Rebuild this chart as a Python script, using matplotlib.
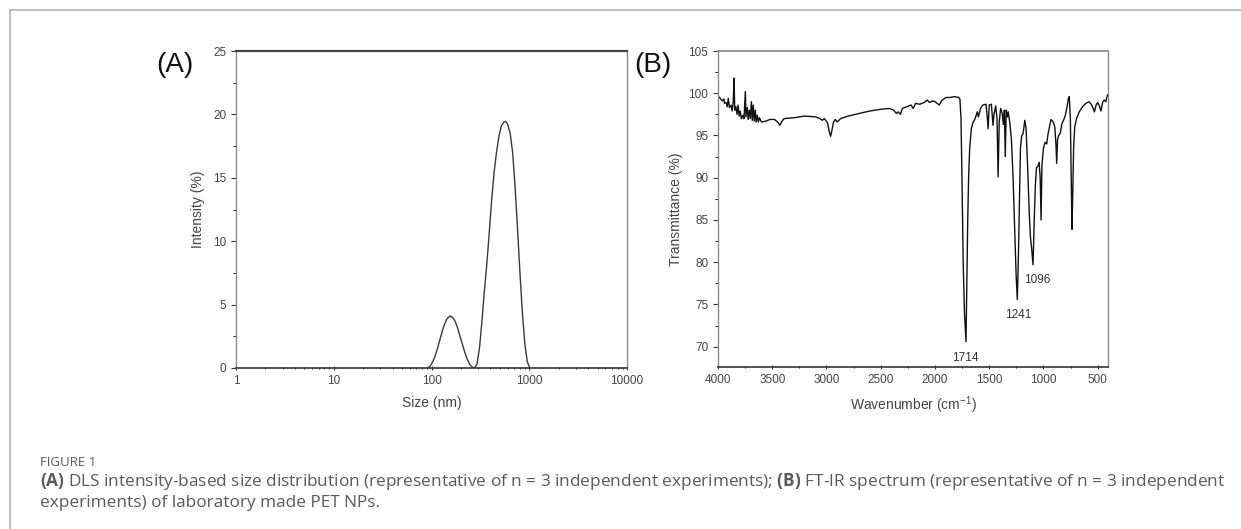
import matplotlib
matplotlib.use("Agg")
import matplotlib.pyplot as plt
from matplotlib.lines import Line2D
from matplotlib.ticker import FixedLocator, LogLocator, NullFormatter, MultipleLocator

plt.rcParams["font.family"] = ["Liberation Sans", "DejaVu Sans"]
plt.rcParams["mathtext.fontset"] = "custom"
plt.rcParams["mathtext.rm"] = "Liberation Sans"
plt.rcParams["mathtext.bf"] = "Open Sans:bold"

# (A) DLS size distribution
size_nm = [91.2, 96.6, 102.3, 108.4, 114.8, 121.6, 128.8, 136.5, 144.5, 154.9,
           164.1, 173.8, 184.1, 195.0, 206.5, 218.8, 231.7, 245.5, 260.0, 275.4,
           291.7, 309.0, 327.3, 346.7, 367.3, 389.0, 412.1, 436.5, 462.4, 489.8,
           518.8, 549.5, 574.1, 602.6, 638.3, 676.1, 716.1, 758.6, 803.5, 851.1,
           901.6, 955.0, 1011.6]
intensity = [0.0, 0.15, 0.45, 0.9, 1.5, 2.2, 2.9, 3.5, 3.9, 4.1,
             4.0, 3.7, 3.2, 2.55, 1.9, 1.25, 0.7, 0.3, 0.08, 0.0,
             0.3, 1.5, 3.6, 6.0, 8.1, 10.6, 13.2, 15.4, 17.0, 18.3,
             19.1, 19.4, 19.45, 19.2, 18.5, 17.0, 14.3, 11.0, 7.5, 4.3,
             1.9, 0.5, 0.0]

# (B) FT-IR spectrum
wavenumber = [4000, 3980, 3960, 3945, 3940, 3925, 3915, 3905, 3895, 3880,
              3870, 3860, 3852, 3846, 3835, 3825, 3815, 3805, 3795, 3785,
              3770, 3760, 3748, 3742, 3730, 3722, 3712, 3702, 3692, 3684,
              3675, 3666, 3656, 3648, 3638, 3628, 3618, 3600, 3560, 3520,
              3480, 3450, 3430, 3410, 3390, 3300, 3200, 3100, 3060, 3040,
              3020, 2990, 2975, 2962, 2950, 2935, 2920, 2900, 2870, 2800,
              2700, 2600, 2500, 2420, 2380, 2355, 2340, 2320, 2300, 2260,
              2220, 2200, 2180, 2140, 2100, 2070, 2050, 2020, 2000, 1980,
              1960, 1940, 1900, 1860, 1820, 1780, 1770, 1760, 1750, 1740,
              1728, 1714, 1706, 1698, 1690, 1680, 1665, 1650, 1630, 1610,
              1600, 1580, 1560, 1530, 1520, 1510, 1500, 1480, 1465, 1455,
              1440, 1428, 1418, 1408, 1395, 1380, 1370, 1360, 1352, 1343,
              1333, 1325, 1310, 1295, 1280, 1265, 1252, 1241, 1232, 1222,
              1212, 1200, 1188, 1172, 1160, 1145, 1130, 1120, 1108, 1096,
              1085, 1075, 1064, 1050, 1040, 1030, 1022, 1014, 1000, 985,
              970, 960, 945, 930, 910, 895, 885, 878, 870, 860,
              845, 830, 815, 800, 785, 770, 762, 752, 745, 737,
              730, 722, 712, 695, 670, 640, 610, 580, 560, 545,
              530, 515, 500, 485, 470, 455, 440, 425, 410]
transmittance = [99.7, 99.4, 99.1, 99.3, 98.8, 98.9, 98.4, 99.4, 98.3, 98.6,
                 97.9, 98.9, 101.8, 98.0, 98.4, 97.5, 98.6, 97.3, 97.9, 97.0,
                 97.4, 97.0, 100.2, 97.2, 98.3, 96.9, 98.0, 97.0, 99.0, 96.8,
                 98.6, 96.7, 98.0, 96.6, 97.4, 96.6, 97.1, 96.6, 96.7, 96.9,
                 96.9, 96.6, 96.2, 96.7, 97.0, 97.1, 97.3, 97.2, 97.0, 96.8,
                 97.0, 96.5, 95.5, 94.9, 95.6, 96.6, 96.9, 96.6, 97.0, 97.3,
                 97.6, 97.9, 98.1, 98.2, 98.0, 97.6, 97.8, 97.5, 98.2, 98.4,
                 98.6, 98.2, 98.8, 98.7, 98.9, 99.2, 98.9, 99.1, 99.0, 98.8,
                 98.6, 99.1, 99.5, 99.5, 99.6, 99.5, 99.3, 97.0, 89.0, 80.0,
                 74.0, 70.6, 78.0, 85.0, 90.0, 93.5, 95.8, 96.5, 97.0, 97.8,
                 97.2, 98.2, 98.6, 98.7, 97.5, 95.8, 98.6, 98.7, 96.2, 97.6,
                 98.5, 97.0, 90.1, 96.5, 98.2, 97.6, 96.3, 98.0, 92.5, 98.0,
                 97.2, 97.8, 96.5, 94.5, 90.0, 84.0, 78.5, 75.6, 80.0, 87.0,
                 93.5, 95.0, 95.2, 96.8, 95.8, 91.0, 85.5, 83.0, 81.5, 79.7,
                 85.0, 89.0, 91.2, 91.4, 91.8, 90.0, 85.0, 91.5, 93.5, 94.2,
                 94.0, 95.0, 96.0, 96.9, 96.6, 96.0, 94.0, 91.7, 94.5, 95.0,
                 95.3, 96.4, 96.8, 97.3, 98.2, 99.4, 99.6, 97.0, 91.0, 83.9,
                 88.0, 93.5, 96.0, 97.0, 97.8, 98.4, 98.8, 99.0, 98.7, 98.3,
                 97.8, 98.6, 98.9, 98.5, 97.9, 98.9, 99.2, 99.0, 99.8]

peak_labels = ["1714", "1241", "1096"]
peak_label_x = [1725, 1228, 1059]
peak_label_y = [68.7, 73.7, 77.9]

fig = plt.figure(figsize=(12.41, 5.29), dpi=100)

# 外框线
fig.add_artist(Line2D([10 / 1241, 1], [1 - 10 / 529, 1 - 10 / 529], color="#b0b0b0", lw=1.2))
fig.add_artist(Line2D([10 / 1241, 10 / 1241], [0, 1 - 10 / 529], color="#b0b0b0", lw=1.2))

W, H = 1241, 529
axA = fig.add_axes([236 / W, 1 - 368 / H, (627 - 236) / W, (368 - 51) / H])
axB = fig.add_axes([718 / W, 1 - 367 / H, (1108 - 718) / W, (367 - 51) / H])

tick_kw = dict(labelsize=8.5, colors="#333333", labelcolor="#444444")

# panel A
axA.plot(size_nm, intensity, color="#3a3a3a", lw=1.0)
axA.set_xscale("log")
axA.set_xlim(1, 10000)
axA.set_ylim(0, 25)
axA.xaxis.set_major_locator(FixedLocator([1, 10, 100, 1000, 10000]))
axA.set_xticklabels(["1", "10", "100", "1000", "10000"])
axA.xaxis.set_minor_locator(LogLocator(base=10, subs=range(2, 10)))
axA.xaxis.set_minor_formatter(NullFormatter())
axA.yaxis.set_major_locator(MultipleLocator(5))
axA.yaxis.set_minor_locator(MultipleLocator(2.5))
axA.set_xlabel("Size (nm)", fontsize=10, color="#444444", labelpad=6)
axA.set_ylabel("Intensity (%)", fontsize=10, color="#444444", labelpad=6)

# panel B
axB.plot(wavenumber, transmittance, color="#111111", lw=1.0)
axB.set_xlim(4000, 405)
axB.set_ylim(67.6, 105)
axB.xaxis.set_major_locator(MultipleLocator(500))
axB.xaxis.set_minor_locator(MultipleLocator(250))
axB.yaxis.set_major_locator(MultipleLocator(5))
axB.yaxis.set_minor_locator(MultipleLocator(2.5))
axB.set_xlabel("Wavenumber (cm$^{-1}$)", fontsize=10, color="#444444", labelpad=6)
axB.set_ylabel("Transmittance (%)", fontsize=10, color="#444444", labelpad=4)
for lab, x, y in zip(peak_labels, peak_label_x, peak_label_y):
    axB.text(x, y, lab, fontsize=8.5, color="#333333", ha="center", va="center")

for ax in (axA, axB):
    ax.tick_params(axis="both", which="major", direction="out", length=3.5, width=0.8, **tick_kw)
    ax.tick_params(axis="both", which="minor", direction="out", length=2, width=0.6)
    ax.tick_params(axis="x", which="both", direction="inout")
    for side in ("left", "right"):
        ax.spines[side].set_color("#8a8a8a")
        ax.spines[side].set_linewidth(1.0)
    ax.spines["bottom"].set_color("#333333")
    ax.spines["bottom"].set_linewidth(1.2)
axA.spines["top"].set_color("#444444")
axA.spines["top"].set_linewidth(1.6)
axB.spines["top"].set_color("#888888")
axB.spines["top"].set_linewidth(1.2)

fig.text(175 / W, 1 - 65 / H, "(A)", fontsize=20, color="#111111", ha="center", va="center")
fig.text(653 / W, 1 - 65 / H, "(B)", fontsize=20, color="#111111", ha="center", va="center")

# 图注
cap_font = ["Open Sans", "DejaVu Sans"]
fig.text(40 / W, 1 - 462 / H, "FIGURE 1", fontsize=9.5, color="#5a5a5a", family=cap_font, va="center")
fig.text(40 / W, 1 - 482 / H,
         r"$\bf{(A)}$ DLS intensity-based size distribution (representative of n = 3 independent experiments); "
         r"$\bf{(B)}$ FT-IR spectrum (representative of n = 3 independent",
         fontsize=12.4, color="#5a5a5a", family=cap_font, va="center")
fig.text(40 / W, 1 - 503 / H, "experiments) of laboratory made PET NPs.",
         fontsize=12.4, color="#5a5a5a", family=cap_font, va="center")

fig.savefig("out.png", dpi=100)
